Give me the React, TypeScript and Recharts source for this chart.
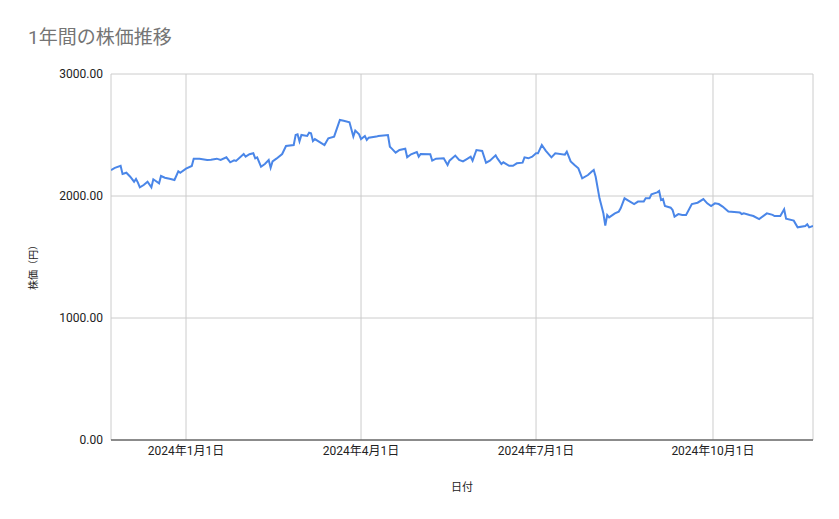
import React from 'react';
import { LineChart, Line, XAxis, YAxis, CartesianGrid, Label } from 'recharts';

const dates = [
  '2023-11-23','2023-11-25','2023-11-28','2023-11-29','2023-12-01','2023-12-03','2023-12-05','2023-12-06','2023-12-07','2023-12-08',
  '2023-12-10','2023-12-12','2023-12-14','2023-12-15','2023-12-18','2023-12-19','2023-12-21','2023-12-24','2023-12-26','2023-12-28',
  '2023-12-29','2024-01-01','2024-01-04','2024-01-05','2024-01-08','2024-01-12','2024-01-14','2024-01-17','2024-01-19','2024-01-22',
  '2024-01-24','2024-01-26','2024-01-27','2024-01-31','2024-02-01','2024-02-03','2024-02-05','2024-02-06','2024-02-07','2024-02-09',
  '2024-02-11','2024-02-13','2024-02-14','2024-02-15','2024-02-17','2024-02-20','2024-02-22','2024-02-26','2024-02-27','2024-02-28',
  '2024-02-29','2024-03-01','2024-03-04','2024-03-05','2024-03-06','2024-03-07','2024-03-08','2024-03-13','2024-03-15','2024-03-18',
  '2024-03-21','2024-03-23','2024-03-26','2024-03-28','2024-03-29','2024-03-31','2024-04-01','2024-04-03','2024-04-04','2024-04-05',
  '2024-04-09','2024-04-10','2024-04-15','2024-04-16','2024-04-17','2024-04-19','2024-04-21','2024-04-24','2024-04-25','2024-04-27',
  '2024-04-30','2024-05-01','2024-05-02','2024-05-07','2024-05-08','2024-05-10','2024-05-14','2024-05-16','2024-05-17','2024-05-20',
  '2024-05-22','2024-05-24','2024-05-26','2024-05-28','2024-05-29','2024-05-31','2024-06-03','2024-06-05','2024-06-07','2024-06-10',
  '2024-06-11','2024-06-13','2024-06-14','2024-06-17','2024-06-19','2024-06-21','2024-06-24','2024-06-25','2024-06-27','2024-06-29',
  '2024-07-01','2024-07-02','2024-07-04','2024-07-06','2024-07-09','2024-07-11','2024-07-16','2024-07-17','2024-07-19','2024-07-21',
  '2024-07-23','2024-07-25','2024-07-28','2024-07-29','2024-07-30','2024-07-31','2024-08-01','2024-08-03','2024-08-05','2024-08-06',
  '2024-08-07','2024-08-08','2024-08-11','2024-08-13','2024-08-14','2024-08-16','2024-08-18','2024-08-21','2024-08-23','2024-08-26',
  '2024-08-27','2024-08-29','2024-08-30','2024-09-02','2024-09-03','2024-09-04','2024-09-05','2024-09-06','2024-09-09','2024-09-10',
  '2024-09-11','2024-09-13','2024-09-15','2024-09-17','2024-09-20','2024-09-23','2024-09-26','2024-09-28','2024-09-30','2024-10-02',
  '2024-10-04','2024-10-06','2024-10-09','2024-10-12','2024-10-15','2024-10-16','2024-10-17','2024-10-20','2024-10-22','2024-10-25',
  '2024-10-29','2024-11-01','2024-11-02','2024-11-05','2024-11-07','2024-11-08','2024-11-12','2024-11-14','2024-11-18','2024-11-19',
  '2024-11-20','2024-11-22',
];

const prices = [
  2213, 2230, 2248, 2180, 2191, 2158, 2117, 2140, 2110, 2071,
  2090, 2117, 2071, 2137, 2104, 2164, 2150, 2140, 2131, 2203,
  2191, 2224, 2246, 2306, 2306, 2295, 2298, 2306, 2295, 2317,
  2276, 2292, 2287, 2344, 2322, 2342, 2350, 2309, 2317, 2240,
  2262, 2295, 2232, 2284, 2306, 2344, 2410, 2418, 2500, 2506,
  2448, 2500, 2492, 2519, 2514, 2451, 2467, 2418, 2473, 2487,
  2623, 2617, 2604, 2487, 2536, 2506, 2467, 2492, 2459, 2478,
  2487, 2492, 2500, 2404, 2388, 2355, 2377, 2388, 2317, 2342,
  2361, 2322, 2344, 2342, 2290, 2306, 2309, 2254, 2290, 2331,
  2295, 2284, 2303, 2322, 2290, 2377, 2369, 2273, 2290, 2333,
  2306, 2262, 2276, 2248, 2248, 2268, 2273, 2317, 2309, 2322,
  2350, 2350, 2418, 2372, 2317, 2350, 2339, 2364, 2284, 2254,
  2227, 2145, 2172, 2186, 2200, 2213, 2158, 1981, 1858, 1757,
  1844, 1825, 1858, 1872, 1899, 1981, 1962, 1934, 1954, 1954,
  1981, 1981, 2014, 2030, 2041, 1967, 1975, 1918, 1904, 1885,
  1831, 1852, 1844, 1844, 1934, 1945, 1975, 1940, 1918, 1940,
  1934, 1913, 1872, 1868, 1864, 1852, 1858, 1844, 1836, 1811,
  1858, 1845, 1836, 1836, 1891, 1814, 1798, 1743, 1754, 1768,
  1743, 1754,
];

const xTickDates = ['2024-01-01', '2024-04-01', '2024-07-01', '2024-10-01'];
const yTicks = [0, 1000, 2000, 3000];
const domainStart = '2023-11-23';
const domainEnd = '2024-11-22';

const toTs = (s: string) => Date.parse(s + 'T00:00:00Z');

const data = dates.map((d, i) => ({ t: toTs(d), price: prices[i] }));
const xTicks = xTickDates.map(toTs);

const fmtDate = (v: number) => {
  const d = new Date(v);
  return `${d.getUTCFullYear()}年${d.getUTCMonth() + 1}月${d.getUTCDate()}日`;
};

const FONT = "Roboto, 'Noto Sans CJK JP', 'Noto Sans', sans-serif";

const YLabel = () => (
  <text
    x={0}
    y={0}
    transform="translate(33,265) rotate(-90)"
    textAnchor="middle"
    dominantBaseline="central"
    fontSize={10}
    fill="#222"
    fontFamily={FONT}
  >
    株価（円）
  </text>
);

const XLabel = () => (
  <text
    x={462}
    y={487}
    textAnchor="middle"
    dominantBaseline="central"
    fontSize={11}
    fill="#222"
    fontFamily={FONT}
  >
    日付
  </text>
);

export default function App() {
  return (
    <div
      style={{
        position: 'absolute',
        left: 0,
        top: 0,
        width: 839,
        height: 519,
        background: '#fff',
        fontFamily: FONT,
      }}
    >
      <div
        style={{
          position: 'absolute',
          left: 28,
          top: 27,
          fontSize: 19,
          lineHeight: '22px',
          color: '#757575',
          fontFamily: FONT,
          whiteSpace: 'nowrap',
        }}
      >
        1年間の株価推移
      </div>
      <LineChart
        width={839}
        height={519}
        data={data}
        margin={{ top: 74, right: 26, bottom: 49, left: 0 }}
      >
        <CartesianGrid stroke="#cccccc" strokeWidth={1} ticks={xTicks} />
        <XAxis
          type="number"
          dataKey="t"
          domain={[toTs(domainStart), toTs(domainEnd)]}
          ticks={xTicks}
          tickFormatter={fmtDate}
          allowDataOverflow
          axisLine={{ stroke: '#333333', strokeWidth: 1 }}
          tickLine={false}
          tickSize={4}
          tick={{ fontSize: 12, fill: '#222', fontFamily: FONT }}
          height={30}
          label={<Label content={XLabel} />}
        />
        <YAxis
          type="number"
          domain={[0, 3000]}
          ticks={yTicks}
          tickFormatter={(v: number) => v.toFixed(2)}
          width={111}
          axisLine={false}
          tickLine={false}
          tickSize={6}
          tick={{ fontSize: 12, fill: '#222', fontFamily: FONT }}
          label={<Label content={YLabel} />}
        />
        <Line
          type="linear"
          dataKey="price"
          stroke="#4a86e8"
          strokeWidth={2}
          dot={false}
          isAnimationActive={false}
        />
      </LineChart>
    </div>
  );
}
